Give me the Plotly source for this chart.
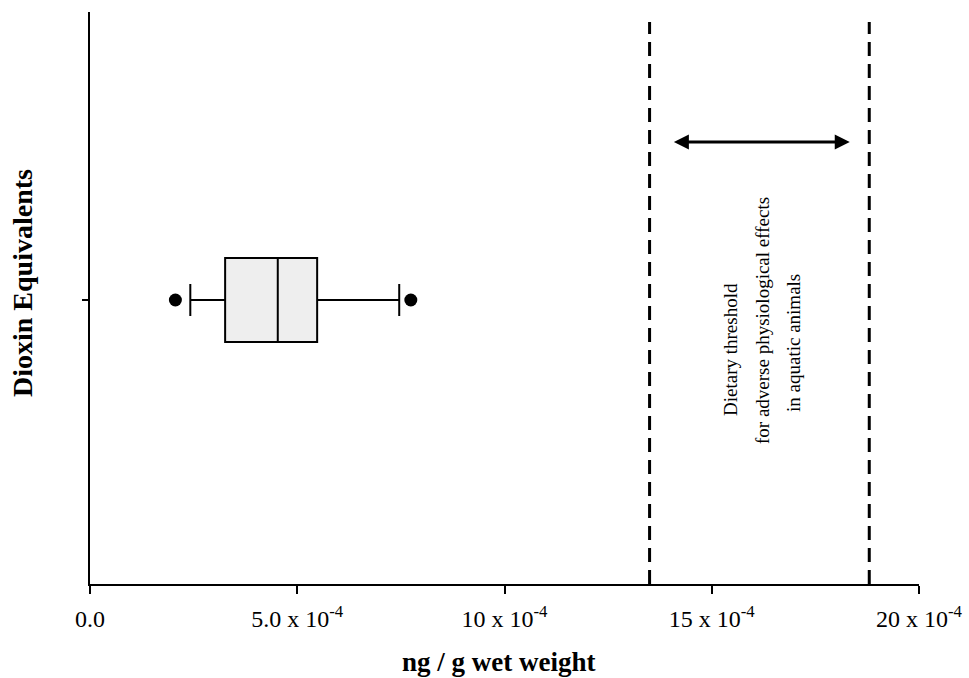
import plotly.graph_objects as go

# ---- data (units: ng/g wet weight) ----
category = ["Dioxin Equivalents"]
q1 = [3.26e-4]
median = [4.53e-4]
q3 = [5.48e-4]
lower_whisker = [2.42e-4]
upper_whisker = [7.46e-4]
outliers = [2.06e-4, 7.74e-4]
thresholds = [13.5e-4, 18.8e-4]
arrow_span = [14.05e-4, 18.33e-4]
tick_vals = [0.0, 5e-4, 10e-4, 15e-4, 20e-4]
tick_text = ["0.0", "5.0 x 10<sup>-4</sup>", "10 x 10<sup>-4</sup>",
             "15 x 10<sup>-4</sup>", "20 x 10<sup>-4</sup>"]
note_lines = ["Dietary threshold", "for adverse physiological effects", "in aquatic animals"]

ypos = 0.5
YMAX = 1.007
FONT = "Liberation Serif"

fig = go.Figure()
fig.add_trace(go.Box(
    orientation="h", y=[ypos], q1=q1, median=median, q3=q3,
    lowerfence=lower_whisker, upperfence=upper_whisker,
    width=0.148, whiskerwidth=0.38,
    fillcolor="#eeeeee", line=dict(color="black", width=2),
    boxpoints=False, showlegend=False, name=category[0],
))
fig.add_trace(go.Scatter(
    x=outliers, y=[ypos] * len(outliers), mode="markers",
    marker=dict(color="black", size=13), showlegend=False,
))

for t in thresholds:
    fig.add_shape(type="line", xref="x", yref="paper", x0=t, x1=t,
                  y0=0, y1=0.9825,
                  line=dict(color="black", width=3, dash="14px,8px"))

arrow_y = (584 - 142) / 572 * YMAX
fig.add_annotation(x=arrow_span[1], y=arrow_y, ax=arrow_span[0], ay=arrow_y,
                   xref="x", yref="y", axref="x", ayref="y",
                   showarrow=True, arrowhead=2, arrowside="end+start",
                   arrowsize=1, arrowwidth=3, arrowcolor="black", text="")

note_px = [(731, 350), (762, 321), (793, 343)]
for line, (px, py) in zip(note_lines, note_px):
    fig.add_annotation(x=(px - 90) / 829, y=(584 - py) / 572, xref="paper", yref="paper",
                       text=line, showarrow=False, textangle=-90,
                       xanchor="center", yanchor="middle",
                       font=dict(family=FONT, size=19, color="black"))

# axis titles
fig.add_annotation(x=(22 - 90) / 829, y=(584 - 283) / 572, xref="paper", yref="paper",
                   text="<b>Dioxin Equivalents</b>", showarrow=False, textangle=-90,
                   xanchor="center", yanchor="middle",
                   font=dict(family=FONT, size=28, color="black"))
fig.add_annotation(x=(498 - 90) / 829, y=(584 - 662) / 572, xref="paper", yref="paper",
                   text="<b>ng / g wet weight</b>", showarrow=False,
                   xanchor="center", yanchor="middle",
                   font=dict(family=FONT, size=27, color="black"))

fig.update_layout(
    width=969, height=678,
    margin=dict(l=90, r=50, t=12, b=94),
    paper_bgcolor="white", plot_bgcolor="white",
    font=dict(family=FONT, color="black"),
    xaxis=dict(range=[0, 20e-4], tickvals=tick_vals, ticktext=tick_text,
               showline=True, linecolor="black", linewidth=2,
               ticks="outside", ticklen=8, tickwidth=1.5, tickcolor="black",
               showgrid=False, zeroline=False, ticklabelstandoff=4,
               automargin=False,
               tickfont=dict(family=FONT, size=24, color="black")),
    yaxis=dict(range=[0, YMAX], tickvals=[ypos], ticktext=[""],
               showline=True, linecolor="black", linewidth=2,
               ticks="outside", ticklen=6, tickwidth=1.5, tickcolor="black",
               showgrid=False, zeroline=False, automargin=False),
)

fig.write_html("out.html")
